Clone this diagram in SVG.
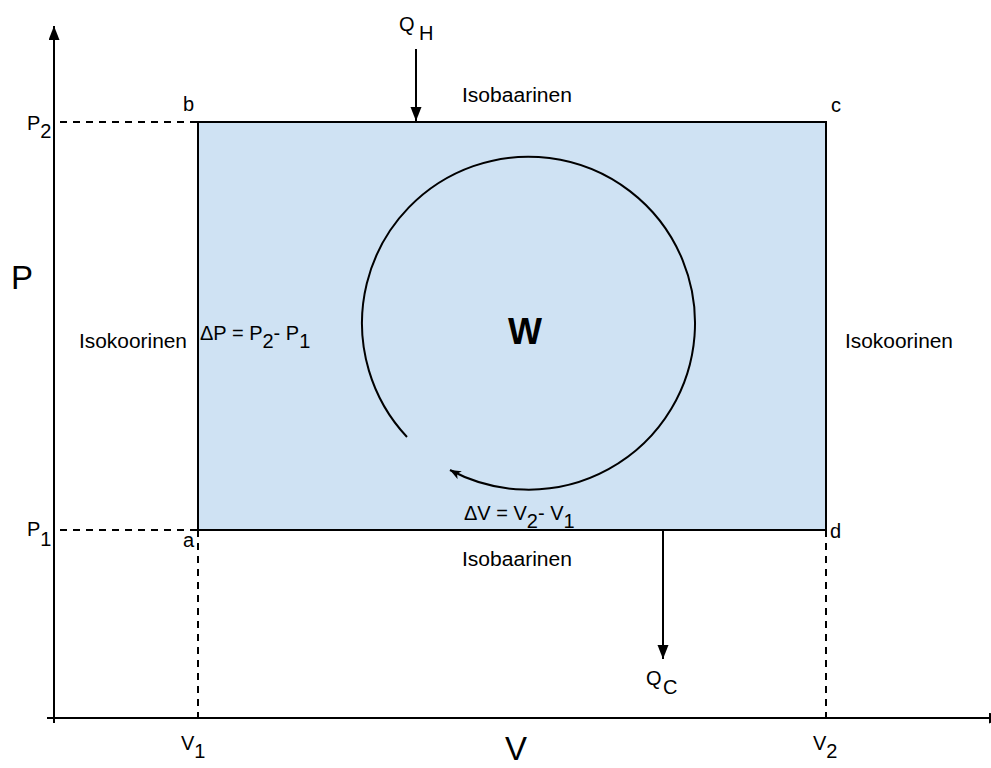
<svg xmlns="http://www.w3.org/2000/svg" width="991" height="768" viewBox="0 0 991 768">
<style>
text{font-family:"Liberation Sans",Arial,sans-serif;fill:#000}
.lbl{font-size:20px}
.big{font-size:33px}
.ln{stroke:#000;stroke-width:2;fill:none}
.dash{stroke:#000;stroke-width:2;fill:none;stroke-dasharray:7 6}
</style>
<defs>
<marker id="ah" markerUnits="userSpaceOnUse" markerWidth="16" markerHeight="12" refX="14" refY="5.5" orient="auto">
<path d="M0,0 L14,5.5 L0,11 z" fill="#000"/>
</marker>
<marker id="ahs" markerUnits="userSpaceOnUse" markerWidth="14" markerHeight="10" refX="11" refY="4.5" orient="auto">
<path d="M0,0 L11,4.5 L0,9 L3,4.5 z" fill="#000"/>
</marker>
</defs>
<rect width="991" height="768" fill="#fff"/>
<g id="cycle">
<rect x="198" y="122" width="628" height="408" fill="#cfe2f3" stroke="#000" stroke-width="2"/>
</g>
<g id="connectors">
<line class="ln" x1="54" y1="723" x2="54" y2="26" marker-end="url(#ah)"/>
<line class="ln" x1="47" y1="718" x2="1003" y2="718" marker-end="url(#ah)"/>
<line class="dash" x1="60" y1="122" x2="198" y2="122"/>
<line class="dash" x1="60" y1="530" x2="198" y2="530"/>
<line class="dash" x1="198" y1="530" x2="198" y2="718"/>
<line class="dash" x1="826" y1="530" x2="826" y2="718"/>
<line class="ln" x1="416" y1="49" x2="416" y2="121" marker-end="url(#ah)"/>
<line class="ln" x1="663" y1="531" x2="663" y2="659" marker-end="url(#ah)"/>
<path class="ln" d="M 407 437 A 166.5 166.5 0 1 1 450 470" marker-end="url(#ahs)"/>
</g>
<g id="labels">
<text class="big" x="11" y="289">P</text>
<text class="big" font-size="30" x="505" y="760">V</text>
<text x="508" y="344" font-size="36" font-weight="bold">W</text>
<text class="lbl" x="183" y="111">b</text>
<text class="lbl" x="831" y="112">c</text>
<text class="lbl" x="183" y="547">a</text>
<text class="lbl" x="830" y="538">d</text>
<text class="lbl" x="27" y="130">P<tspan dy="8">2</tspan></text>
<text class="lbl" x="27" y="536">P<tspan dy="10">1</tspan></text>
<text class="lbl" x="399" y="31">Q<tspan x="419" dy="9">H</tspan></text>
<text class="lbl" x="646" y="685">Q<tspan x="663" dy="9">C</tspan></text>
<text class="lbl" font-size="18" x="181" y="750">V<tspan dy="8">1</tspan></text>
<text class="lbl" font-size="18" x="813" y="750">V<tspan dy="8">2</tspan></text>
<text class="lbl" x="462" y="102" textLength="110" lengthAdjust="spacingAndGlyphs">Isobaarinen</text>
<text class="lbl" x="462" y="566" textLength="110" lengthAdjust="spacingAndGlyphs">Isobaarinen</text>
<text class="lbl" x="79" y="348" textLength="108" lengthAdjust="spacingAndGlyphs">Isokoorinen</text>
<text class="lbl" x="845" y="348" textLength="108" lengthAdjust="spacingAndGlyphs">Isokoorinen</text>
<text class="lbl" x="200" y="340">ΔP = P<tspan dy="8">2</tspan><tspan dy="-8">- P</tspan><tspan dy="8">1</tspan></text>
<text class="lbl" x="464" y="520">ΔV = V<tspan dy="8">2</tspan><tspan dy="-8">- V</tspan><tspan dy="8">1</tspan></text>
</g>
</svg>
